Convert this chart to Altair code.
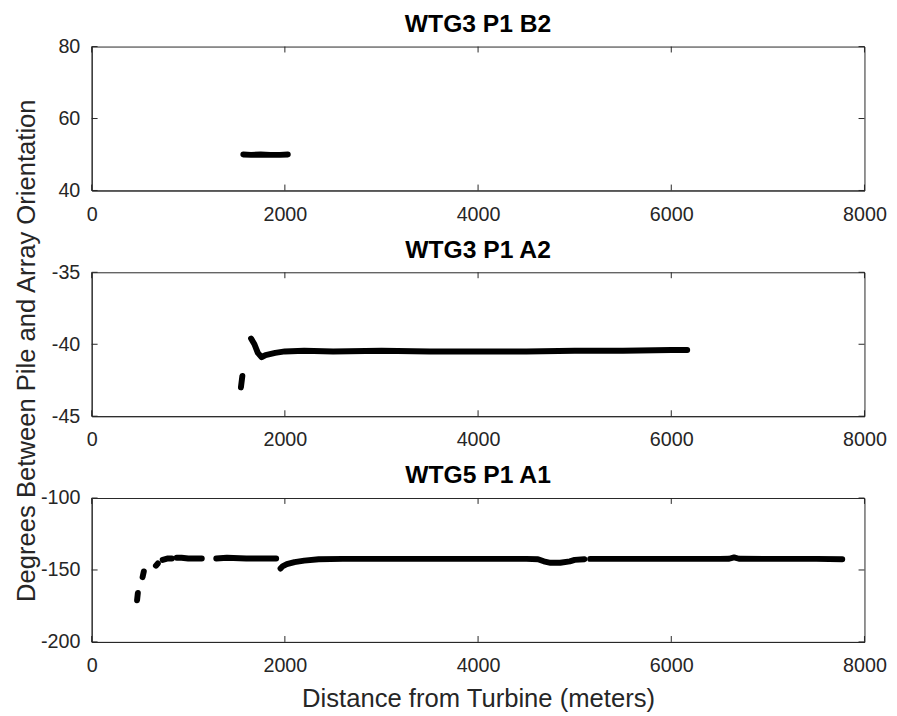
import altair as alt
import pandas as pd

# ---- data ----
x_ticks = [0, 2000, 4000, 6000, 8000]

b2_title = "WTG3 P1 B2"
b2_x = [1570, 1650, 1750, 1850, 1950, 2030]
b2_y = [50.0, 49.9, 50.0, 49.9, 49.9, 50.0]
b2_seg = [0, 0, 0, 0, 0, 0]
b2_yticks = [40, 60, 80]

a2_title = "WTG3 P1 A2"
a2_x = [1545, 1560, 1650, 1685, 1720, 1760, 1800, 1900, 2000, 2200, 2500, 3000,
        3500, 4000, 4500, 5000, 5500, 6000, 6165]
a2_y = [-43.0, -42.2, -39.6, -40.0, -40.6, -40.9, -40.75, -40.6, -40.5, -40.45,
        -40.5, -40.45, -40.5, -40.5, -40.5, -40.45, -40.45, -40.4, -40.4]
a2_seg = [0, 0, 1, 1, 1, 1, 1, 1, 1, 1, 1, 1, 1, 1, 1, 1, 1, 1, 1]
a2_yticks = [-45, -40, -35]

a1_title = "WTG5 P1 A1"
a1_x = [470, 478,
        527, 540,
        665, 685,
        735, 790, 830,
        880, 930, 1000, 1060, 1140,
        1290, 1400, 1600, 1910,
        1955, 1975, 2020, 2100, 2200, 2350, 2600, 3000, 3500, 4000, 4500, 4620,
        4680, 4750, 4850, 4950, 5000, 5100,
        5160, 5500, 6000, 6500, 6600, 6650, 6700, 7000, 7500, 7770]
a1_y = [-171, -166,
        -155, -151,
        -147, -145.5,
        -143, -142, -142,
        -141.5, -141.5, -142, -142, -142,
        -142, -141.5, -142, -142,
        -149, -147.5, -146, -144.5, -143.5, -142.5, -142.3, -142.3, -142.3,
        -142.3, -142.3, -142.5, -144, -145, -145, -144, -143, -142.5,
        -142.3, -142.3, -142.3, -142.3, -142.2, -141.3, -142.2, -142.3, -142.3,
        -142.5]
a1_seg = [0, 0,
          1, 1,
          2, 2,
          3, 3, 3,
          4, 4, 4, 4, 4,
          5, 5, 5, 5,
          6, 6, 6, 6, 6, 6, 6, 6, 6, 6, 6, 6, 6, 6, 6, 6, 6, 6,
          7, 7, 7, 7, 7, 7, 7, 7, 7, 7]
a1_yticks = [-200, -150, -100]

x_title = "Distance from Turbine (meters)"
y_title = "Degrees Between Pile and Array Orientation"

# ---- layout / style ----
W, H = 784, 146
INK = "#262626"
FONT = "Liberation Sans"
TICK = 6
LABEL_EXPR = "'' + datum.value"


def panel(xs, ys, segs, yticks, title, show_xtitle=False, show_ytitle=False):
    df = pd.DataFrame({"x": xs, "y": ys, "seg": segs})
    xscale = alt.Scale(domain=[x_ticks[0], x_ticks[-1]], nice=False, zero=False)
    yscale = alt.Scale(domain=[yticks[0], yticks[-1]], nice=False, zero=False)

    xaxis_kw = dict(values=x_ticks, ticks=False, grid=False, labelFlush=False,
                    labelOverlap=False, labelPadding=14, labelExpr=LABEL_EXPR)
    if show_xtitle:
        xaxis_kw.update(title=x_title, titlePadding=11)
    else:
        xaxis_kw.update(title=None)
    yaxis_kw = dict(values=yticks, ticks=False, grid=False, labelFlush=False,
                    labelOverlap=False, labelPadding=12, labelExpr=LABEL_EXPR)
    if show_ytitle:
        yaxis_kw.update(title=y_title, titleX=-58, titleY=H / 2 + 6,
                        titleBaseline="alphabetic", titleAngle=270)
    else:
        yaxis_kw.update(title=None)
    xax = alt.Axis(**xaxis_kw)
    yax = alt.Axis(**yaxis_kw)

    line = alt.Chart(df).mark_line(
        color="black", strokeWidth=6, strokeCap="round", strokeJoin="round"
    ).encode(
        x=alt.X("x:Q", scale=xscale, axis=xax),
        y=alt.Y("y:Q", scale=yscale, axis=yax),
        detail="seg:N",
    )

    xt = pd.DataFrame({"t": x_ticks})
    yt = pd.DataFrame({"t": yticks})
    xb = alt.Chart(xt).mark_rule(color=INK, strokeWidth=1).encode(
        x=alt.X("t:Q", scale=xscale, axis=xax),
        y=alt.value(H), y2=alt.value(H - TICK))
    xtop = alt.Chart(xt).mark_rule(color=INK, strokeWidth=1).encode(
        x=alt.X("t:Q", scale=xscale, axis=xax),
        y=alt.value(0), y2=alt.value(TICK))
    yl = alt.Chart(yt).mark_rule(color=INK, strokeWidth=1).encode(
        y=alt.Y("t:Q", scale=yscale, axis=yax),
        x=alt.value(0), x2=alt.value(TICK))
    yr = alt.Chart(yt).mark_rule(color=INK, strokeWidth=1).encode(
        y=alt.Y("t:Q", scale=yscale, axis=yax),
        x=alt.value(W), x2=alt.value(W - TICK))

    ttl = alt.Chart(pd.DataFrame({"name": [title]})).mark_text(
        font=FONT, fontSize=25, fontWeight="bold", color="black",
        align="center", baseline="alphabetic"
    ).encode(text="name:N", x=alt.value(W / 2), y=alt.value(-15))

    return alt.layer(line, xb, xtop, yl, yr, ttl).properties(width=W, height=H)


p1 = panel(b2_x, b2_y, b2_seg, b2_yticks, b2_title)
p2 = panel(a2_x, a2_y, a2_seg, a2_yticks, a2_title, show_ytitle=True)
p3 = panel(a1_x, a1_y, a1_seg, a1_yticks, a1_title, show_xtitle=True)

chart = alt.vconcat(p1, p2, p3, spacing=83, bounds="flush").properties(
    padding={"left": 13, "top": 6, "right": 10, "bottom": 5},
    background="white",
).configure_view(
    stroke=INK, strokeWidth=1
).configure_axis(
    labelFont=FONT, labelFontSize=20, labelColor=INK,
    titleFont=FONT, titleFontSize=26, titleFontWeight="normal", titleColor=INK,
    domainColor=INK, domainWidth=1,
)

chart.save("out.html", embed_options={"renderer": "svg", "actions": False})
